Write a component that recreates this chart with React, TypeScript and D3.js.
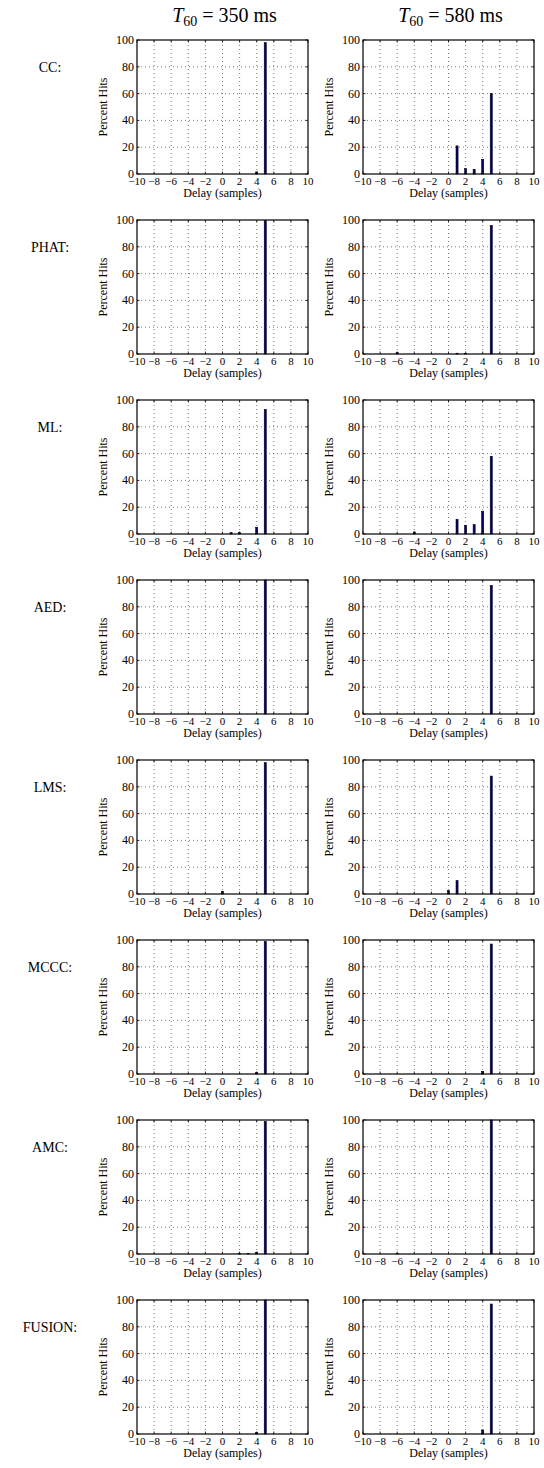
import React from "react";
import * as d3 from "d3";

const delays = d3.range(-10, 11);
const methods = ["CC:", "PHAT:", "ML:", "AED:", "LMS:", "MCCC:", "AMC:", "FUSION:"];
const conditions = ["350", "580"];

const CC_350 = [0,0,0,0,0,0,0,0,0,0,0,0,0,0,1.5,98,0,0,0,0,0];
const CC_580 = [0,0,0,0,0,0,0,0,0,0,0,21,4,3.5,11,60,0,0,0,0,0];
const PHAT_350 = [0,0,0,0,0,0,0,0,0,0,0,0,0,0,0,99.5,0,0,0,0,0];
const PHAT_580 = [0,0,0,0,1,0,0,0,0,0,0,0.6,0.4,0,0,96,0,0,0,0,0];
const ML_350 = [0,0,0,0,0,0,0,0,0,0,0,1,1,0,5,93,0,0,0,0,0];
const ML_580 = [0,0,0,0,0,0,1.5,0,0,0,0,11,6.5,7,17,58,0,0,0,0,0];
const AED_350 = [0,0,0,0,0,0,0,0,0,0,0,0,0,0,0,100,0,0,0,0,0];
const AED_580 = [0,0,0,0,0,0,0,0,0,0,0,0,0,0,0,96,0,0,0,0,0];
const LMS_350 = [0,0,0,0,0,0,0,0,0,0,2,0,0,0,0,98,0,0,0,0,0];
const LMS_580 = [0,0,0,0,0,0,0,0,0,0,2.5,10,0,0,0,88,0,0,0,0,0];
const MCCC_350 = [0,0,0,0,0,0,0,0,0,0,0,0,0,0,1,99,0,0,0,0,0];
const MCCC_580 = [0,0,0,0,0,0,0,0,0,0,0,0,0,0,2,97,0,0,0,0,0];
const AMC_350 = [0,0,0,0,0,0,0,0,0,0,0,0,0.5,0.5,1,99,0,0,0,0,0];
const AMC_580 = [0,0,0,0,0.4,0,0,0,0,0,0,0,0,0,0,100,0,0,0,0,0];
const FUSION_350 = [0,0,0,0,0,0,0,0,0,0,0,0,0,0,1,100,0,0,0,0,0];
const FUSION_580 = [0,0,0,0,0,0,0,0,0,0,0,0,0,0,3,97,0,0,0,0,0];

const seriesTable = [
  [CC_350, CC_580],
  [PHAT_350, PHAT_580],
  [ML_350, ML_580],
  [AED_350, AED_580],
  [LMS_350, LMS_580],
  [MCCC_350, MCCC_580],
  [AMC_350, AMC_580],
  [FUSION_350, FUSION_580],
];

const xTicks = d3.range(-10, 11, 2);
const yTicks = [0, 20, 40, 60, 80, 100];

const W = 544;
const H = 1468;
const colLeft = [137, 363];
const panelW = 171;
const panelH = 134;
const top0 = 40;
const rowPitch = 180;
const FONT = "Liberation Serif";

function fmt(v: number) {
  return v < 0 ? "\u2212" + Math.abs(v) : String(v);
}

function Panel({ x0, y0, values }: { x0: number; y0: number; values: number[] }) {
  const x = d3.scaleLinear().domain([-10, 10]).range([x0, x0 + panelW]);
  const y = d3.scaleLinear().domain([0, 100]).range([y0 + panelH, y0]);
  const bw = (x(1) - x(0)) * 0.24;
  const tl = 2.5;
  return (
    <g>
      {xTicks.slice(1, -1).map((t) => (
        <line key={"gx" + t} x1={x(t)} x2={x(t)} y1={y(0)} y2={y(100)} stroke="#444" strokeWidth={0.7} strokeDasharray="1,3" />
      ))}
      {yTicks.slice(1, -1).map((t) => (
        <line key={"gy" + t} x1={x(-10)} x2={x(10)} y1={y(t)} y2={y(t)} stroke="#444" strokeWidth={0.7} strokeDasharray="1,3" />
      ))}
      {values.map((v, i) => (
        <rect
          key={"b" + i}
          x={x(delays[i]) - bw / 2}
          y={y(v)}
          width={bw}
          height={Math.max(0, y(0) - y(v))}
          fill="#000066"
          stroke="#000022"
          strokeWidth={0.6}
        />
      ))}
      {xTicks.map((t) => (
        <g key={"tx" + t}>
          <line x1={x(t)} x2={x(t)} y1={y(0)} y2={y(0) - tl} stroke="#000" strokeWidth={0.8} />
          <line x1={x(t)} x2={x(t)} y1={y(100)} y2={y(100) + tl} stroke="#000" strokeWidth={0.8} />
          <text x={x(t)} y={y(0) + 11} textAnchor="middle" fontSize={11} fontFamily={FONT}>{fmt(t)}</text>
        </g>
      ))}
      {yTicks.map((t) => (
        <g key={"ty" + t}>
          <line x1={x(-10)} x2={x(-10) + tl} y1={y(t)} y2={y(t)} stroke="#000" strokeWidth={0.8} />
          <line x1={x(10)} x2={x(10) - tl} y1={y(t)} y2={y(t)} stroke="#000" strokeWidth={0.8} />
          <text x={x(-10) - 3} y={y(t) + 4} textAnchor="end" fontSize={12} fontFamily={FONT}>{t}</text>
        </g>
      ))}
      <rect x={x(-10)} y={y(100)} width={panelW} height={panelH} fill="none" stroke="#000" strokeWidth={1.2} />
      <text x={x(0)} y={y(0) + 23} textAnchor="middle" fontSize={12} fontFamily={FONT}>Delay (samples)</text>
      <text
        transform={`translate(${x0 - 30},${y0 + panelH / 2}) rotate(-90)`}
        textAnchor="middle"
        fontSize={12}
        fontFamily={FONT}
      >
        Percent Hits
      </text>
    </g>
  );
}

export default function App() {
  return (
    <svg width={W} height={H} style={{ position: "absolute", left: 0, top: 0, background: "#fff" }}>
      {conditions.map((c, ci) => (
        <text key={"title" + c} x={colLeft[ci] + panelW / 2 + 2} y={22} textAnchor="middle" fontSize={20} fontFamily={FONT}>
          <tspan fontStyle="italic">T</tspan>
          <tspan fontSize={14} dy={4}>60</tspan>
          <tspan dy={-4}>{" = " + c + " ms"}</tspan>
        </text>
      ))}
      {methods.map((m, ri) => {
        const y0 = top0 + ri * rowPitch;
        return (
          <g key={m}>
            <text x={50} y={y0 + 32} textAnchor="middle" fontSize={14} fontFamily={FONT}>{m}</text>
            {conditions.map((c, ci) => (
              <Panel key={c} x0={colLeft[ci]} y0={y0} values={seriesTable[ri][ci]} />
            ))}
          </g>
        );
      })}
    </svg>
  );
}
